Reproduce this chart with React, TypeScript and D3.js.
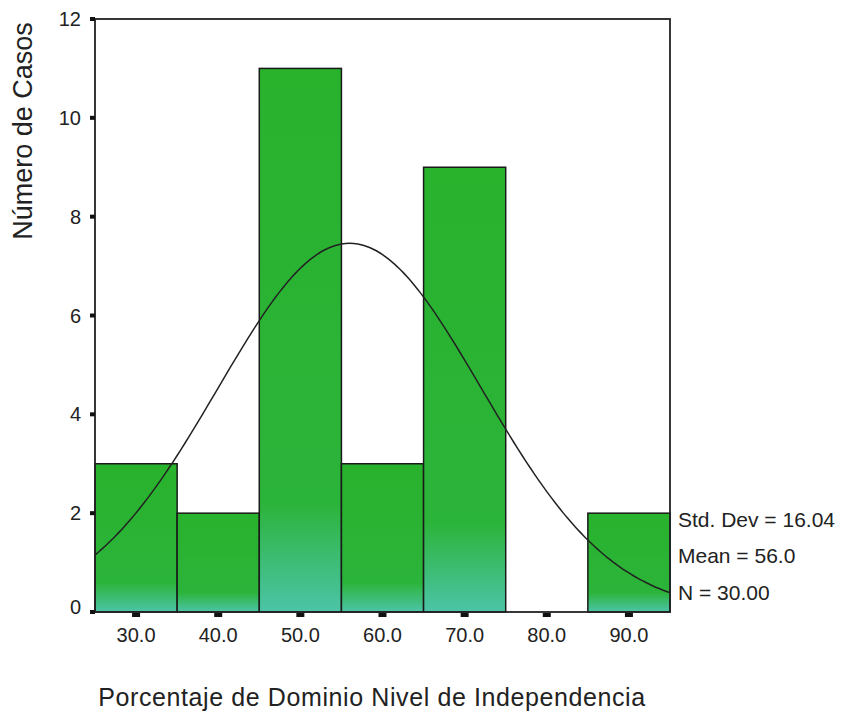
import React from "react";
import * as d3 from "d3";

const binStarts = [25, 35, 45, 55, 65, 75, 85];
const binWidth = 10;
const counts = [3, 2, 11, 3, 9, 0, 2];
const xTicks = [30, 40, 50, 60, 70, 80, 90];
const yTicks = [0, 2, 4, 6, 8, 10, 12];
const stdDev = 16.04;
const mean = 56.0;
const nCases = 30;
const legendLines = ["Std. Dev = 16.04", "Mean = 56.0", "N = 30.00"];
const xLabel = "Porcentaje de Dominio Nivel de Independencia";
const yLabel = "Número de Casos";

export default function App() {
  const W = 841, H = 713;
  const left = 95, right = 670, top = 19, bottom = 612;
  const x = d3.scaleLinear().domain([25, 95]).range([left, right]);
  const y = d3.scaleLinear().domain([0, 12]).range([bottom, top]);
  const font = "'Liberation Sans', Arial, sans-serif";

  const curvePts: [number, number][] = d3.range(25, 95.001, 0.5).map((v) => {
    const dens = Math.exp(-0.5 * ((v - mean) / stdDev) ** 2) / (stdDev * Math.sqrt(2 * Math.PI));
    return [v, dens * nCases * binWidth];
  });
  const line = d3.line<[number, number]>().x((d) => x(d[0])).y((d) => y(d[1])).curve(d3.curveBasis);

  return (
    <svg width={W} height={H} style={{ position: "absolute", left: 0, top: 0 }}>
      <rect x={0} y={0} width={W} height={H} fill="#ffffff" />
      <defs>
        <linearGradient id="barg" x1="0" y1="0" x2="0" y2="1">
          <stop offset="0" stopColor="#29b22c" />
          <stop offset="0.8" stopColor="#2bb43a" />
          <stop offset="1" stopColor="#4cc4a8" />
        </linearGradient>
      </defs>
      {counts.map((c, i) =>
        c > 0 ? (
          <rect
            key={i}
            x={x(binStarts[i])}
            y={y(c)}
            width={x(binStarts[i] + binWidth) - x(binStarts[i])}
            height={y(0) - y(c)}
            fill="url(#barg)"
            stroke="#1a1a1a"
            strokeWidth={1.5}
          />
        ) : null
      )}
      <path d={line(curvePts) || ""} fill="none" stroke="#222" strokeWidth={1.5} />
      <rect x={left} y={top} width={right - left} height={bottom - top} fill="none" stroke="#222" strokeWidth={1.8} />
      {yTicks.map((t) => (
        <g key={t}>
          <rect x={left - 5} y={y(t) - 2} width={5} height={4} fill="#111" />
          <text
            x={81}
            y={t === 0 ? y(t) - 5 : y(t)}
            textAnchor="end"
            dominantBaseline="central"
            fontFamily={font}
            fontSize={20}
            fill="#222"
          >
            {t}
          </text>
        </g>
      ))}
      {xTicks.map((t) => (
        <g key={t}>
          <rect x={x(t) - 4} y={bottom + 1} width={8} height={4} fill="#111" />
          <text x={x(t)} y={642} textAnchor="middle" fontFamily={font} fontSize={20} fill="#222">
            {t.toFixed(1)}
          </text>
        </g>
      ))}
      <text
        transform={`translate(32, 131) rotate(-90)`}
        textAnchor="middle"
        fontFamily={font}
        fontSize={27}
        fill="#222"
      >
        {yLabel}
      </text>
      <text x={372} y={706} textAnchor="middle" fontFamily={font} fontSize={25} letterSpacing={0.6} fill="#222">
        {xLabel}
      </text>
      {legendLines.map((s, i) => (
        <text key={i} x={678} y={[527, 563, 600][i]} fontFamily={font} fontSize={21} fill="#222">
          {s}
        </text>
      ))}
    </svg>
  );
}
